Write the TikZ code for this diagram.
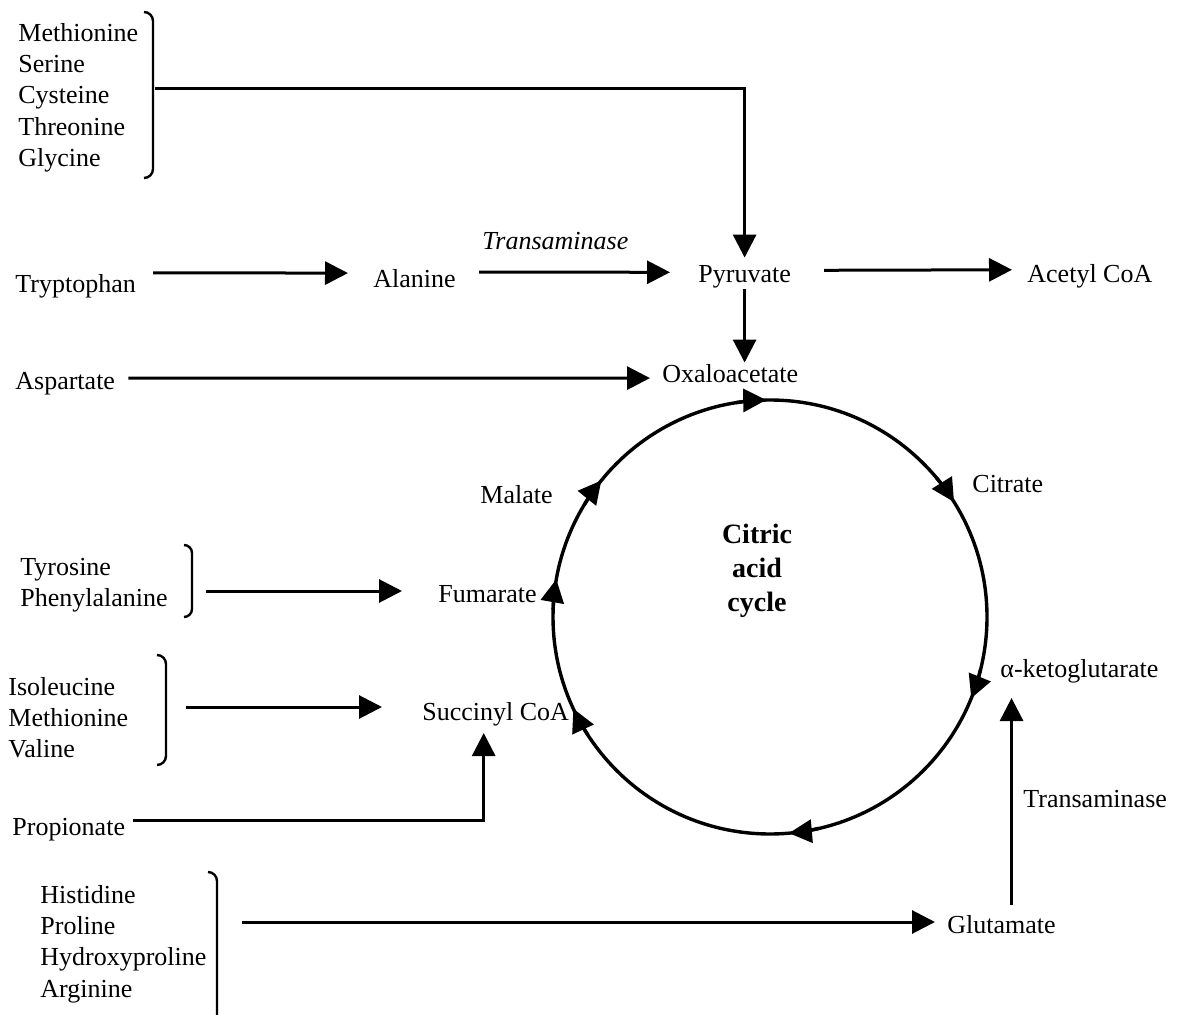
\documentclass[tikz,border=0pt]{standalone}
\usepackage{fontspec}
\setmainfont{Liberation Serif}
\usetikzlibrary{arrows.meta}

\begin{document}
\begin{tikzpicture}[x=0.5pt,y=0.5pt,
  >={Triangle[length=11.5pt,width=11.5pt]},
  every node/.style={inner sep=0pt,font=\fontsize{13}{15.6}\selectfont},
  lbl/.style={anchor=base west},
  lst/.style={anchor=north west,align=left},
  arr/.style={line width=1.5pt,->},
  brk/.style={line width=1.2pt},
  ring/.style={line width=1.7pt}]
\useasboundingbox (0,0) rectangle (1177,-1015);

% amino acids and intermediates
\node[lst] (met) at (18,-23) {Methionine\\Serine\\Cysteine\\Threonine\\Glycine};
\node[lbl] (tryp) at (15,-293) {Tryptophan};
\node[lbl] (ala) at (373,-288) {Alanine};
\node[lbl] (tr1) at (482,-250) {\itshape Transaminase};
\node[lbl] (pyr) at (698,-283) {Pyruvate};
\node[lbl] (acoa) at (1027,-283) {Acetyl CoA};
\node[lbl] (asp) at (15,-390) {Aspartate};
\node[lbl] (oaa) at (662,-383) {Oxaloacetate};
\node[lbl] (mal) at (480,-503) {Malate};
\node[lbl] (cit) at (972,-493) {Citrate};
\node[align=center,font=\fontsize{14}{17}\selectfont\bfseries] (cyc) at (757,-571) {Citric\\acid\\cycle};
\node[lst] (tyr) at (20,-558) {Tyrosine\\Phenylalanine};
\node[lbl] (fum) at (438,-602) {Fumarate};
\node[lst] (ile) at (8,-677) {Isoleucine\\Methionine\\Valine};
\node[lbl] (succ) at (422,-720) {Succinyl CoA};
\node[lbl] (akg) at (1000,-677) {α-ketoglutarate};
\node[lbl] (prop) at (12,-835) {Propionate};
\node[lbl] (tr2) at (1023,-807) {Transaminase};
\node[lst] (his) at (40,-885) {Histidine\\Proline\\Hydroxyproline\\Arginine};
\node[lbl] (glu) at (947,-933) {Glutamate};

% brackets
\draw[brk] (144,-12) to[out=0,in=90] (153,-21) -- (153,-169) to[out=-90,in=0] (144,-178);
\coordinate (b1) at (155,-89);
\draw[brk] (184,-545) to[out=0,in=90] (192,-553) -- (192,-609) to[out=-90,in=0] (184,-617);
\coordinate (b2) at (194,-591);
\draw[brk] (157,-655) to[out=0,in=90] (166,-664) -- (166,-756) to[out=-90,in=0] (157,-765);
\coordinate (b3) at (168,-707);
\draw[brk] (208,-872) to[out=0,in=90] (217,-881) -- (217,-1015);
\coordinate (b4) at (219,-922);

% arrows
\draw[arr,shorten >=4pt] (b1) -| (pyr.north);
\draw[arr] ([shift={(8.5pt,7pt)}]tryp.east) -- ([shift={(-12.5pt,3pt)}]ala.west);
\draw[arr] ([shift={(11.5pt,3.5pt)}]ala.east) -- ([shift={(-14pt,2.5pt)}]pyr.west);
\draw[arr] ([shift={(16.5pt,3.5pt)}]pyr.east) -- ([shift={(-7.5pt,3.5pt)}]acoa.west);
\draw[arr,shorten >=1pt] (pyr.south) -- (pyr.south |- oaa.north);
\draw[arr] ([shift={(6.5pt,3pt)}]asp.east) -- ([shift={(-6pt,-2pt)}]oaa.west);
\draw[arr,shorten <=6pt,shorten >=18pt] (b2) -- (b2 -| fum.west);
\draw[arr,shorten <=9pt,shorten >=20pt] (b3) -- (b3 -| succ.west);
\draw[arr,shorten >=3.5pt] ([shift={(4pt,4.5pt)}]prop.east) -| ([xshift=-6pt]succ.south);
\draw[arr,shorten <=11.5pt,shorten >=6pt] (b4) -- (b4 -| glu.west);
\draw[arr,shorten >=7.5pt] ([shift={(5pt,5pt)}]glu.north) -- ([xshift=5pt]glu.north |- akg.south);

% the cycle
\coordinate (cc) at (770,-617);
\draw[ring] (cc) circle[radius=217];
\foreach \a in {91,32,-22,-85,-155,170,141}
  \draw[ring,->] (cc) ++({\a+8}:217) arc[start angle=\a+8, end angle=\a, radius=217];

\end{tikzpicture}
\end{document}
